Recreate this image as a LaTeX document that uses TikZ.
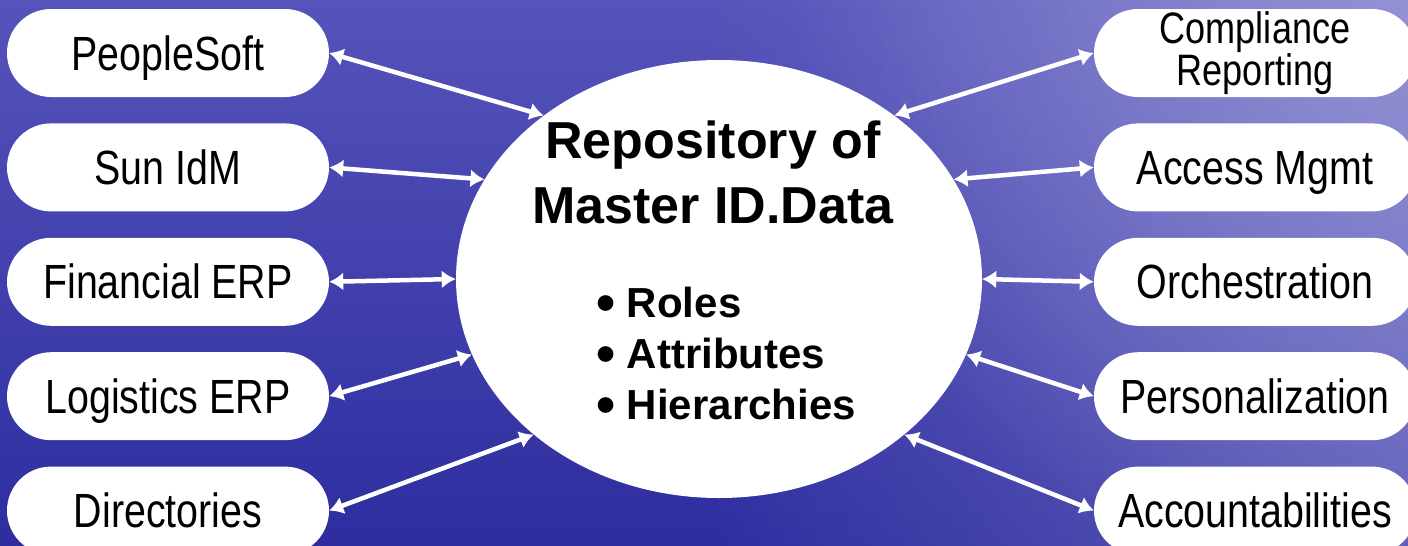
\documentclass[tikz,border=0pt]{standalone}
\usepackage{fontspec}
\setmainfont{Liberation Sans}
\newfontfamily\narrowsans[FakeStretch=0.82]{Liberation Sans}
\usepackage{tikz}
\usetikzlibrary{arrows.meta,positioning,shapes.geometric,fadings}

\definecolor{bgtop}{HTML}{5654BA}
\definecolor{bgbottom}{HTML}{2D2DA0}
\definecolor{bglight}{HTML}{A8A6DC}

\tikzfading[name=cornerglow,inner color=transparent!0,outer color=transparent!100]

% larger bullet, kept on the cap line
\newcommand{\itembullet}{\raisebox{-0.1em}{\scalebox{1.3}{\textbullet}}}

\begin{document}
\begin{tikzpicture}[x=1pt,y=-1pt,
  pill/.style={fill=white,rounded corners=44pt,minimum width=322pt,minimum height=88pt,
    inner sep=0pt,align=center,text height=34pt,text depth=0pt,
    font=\narrowsans\fontsize{48}{48}\selectfont},
  hub/.style={ellipse,fill=white,minimum width=526pt,minimum height=438pt,inner sep=0pt},
  link/.style={white,line width=4.5pt,{Latex[length=14pt,width=18pt]}-{Latex[length=14pt,width=18pt]}}]
\useasboundingbox (0,0) rectangle (1408,546);
\clip (0,0) rectangle (1408,546);

% background
\shade [top color=bgtop,bottom color=bgbottom] (0,0) rectangle (1408,546);
\fill [bglight,path fading=west,fill opacity=0.4] (700,0) rectangle (1408,546);
\fill [bglight,path fading=cornerglow,fill opacity=0.6] (1408,0) circle (620);

% centre
\node [hub] (repo) at (719,279) {};
\node [inner sep=0pt,anchor=north,align=center,font=\bfseries\fontsize{52}{65}\selectfont]
  (title) at (713,121) {Repository of\\Master ID.Data};
\node [inner sep=0pt,anchor=north west,align=left,font=\bfseries\fontsize{42}{51}\selectfont]
  (items) at (596,287) {\itembullet\ Roles\\\itembullet\ Attributes\\\itembullet\ Hierarchies};

% sources
\node [pill] (ps) at (168,53) {PeopleSoft};
\node [pill] (sun) [below=26pt of ps] {Sun IdM};
\node [pill] (fin) [below=26pt of sun] {Financial ERP};
\node [pill] (log) [below=26pt of fin] {Logistics ERP};
\node [pill] (dir) [below=26pt of log] {Directories};

% consumers
\node [pill,text height={},text depth={},font=\narrowsans\fontsize{44}{40}\selectfont]
  (comp) at (1255,53) {Compliance\\Reporting};
\node [pill] (acc) [below=26pt of comp] {Access Mgmt};
\node [pill] (orch) [below=26pt of acc] {Orchestration};
\node [pill] (pers) [below=26pt of orch] {Personalization};
\node [pill] (acct) [below=26pt of pers] {Accountabilities};

\draw [link] (ps.east) -- (repo.137);
\draw [link] (sun.east) -- (repo.157);
\draw [link] (fin.east) -- (repo.180);
\draw [link] (log.east) -- (repo.197);
\draw [link] (dir.east) -- (repo.220);
\draw [link] (repo.43) -- (comp.west);
\draw [link] (repo.23) -- (acc.west);
\draw [link] (repo.0) -- (orch.west);
\draw [link] (repo.-17) -- (pers.west);
\draw [link] (repo.-40) -- (acct.west);
\end{tikzpicture}
\end{document}
